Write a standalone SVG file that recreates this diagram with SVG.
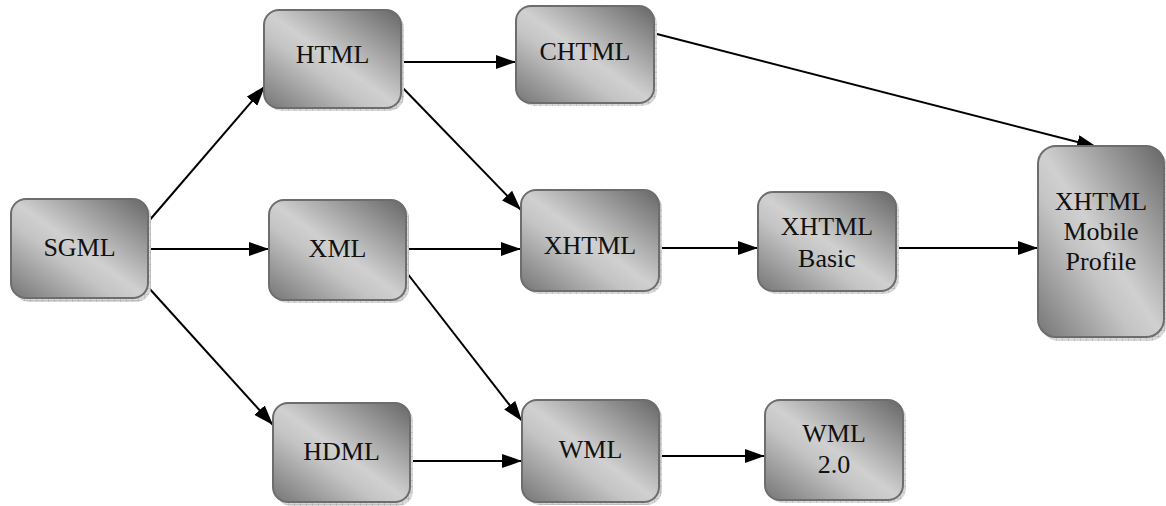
<svg xmlns="http://www.w3.org/2000/svg" width="1166" height="506" viewBox="0 0 1166 506">
<defs>
<linearGradient id="g" x1="1" y1="0" x2="0" y2="1">
<stop offset="0" stop-color="#666"/>
<stop offset="0.5" stop-color="#d0d0d0"/>
<stop offset="0.62" stop-color="#c4c4c4"/>
<stop offset="1" stop-color="#757575"/>
</linearGradient>
<pattern id="hatch" width="6" height="6" patternUnits="userSpaceOnUse">
<rect width="6" height="6" fill="#d8d8d8"/>
<path d="M0 0H6M0 0V6" stroke="#aaa" stroke-width="1"/>
</pattern>
<marker id="ah" markerWidth="20" markerHeight="14" refX="20" refY="7" orient="auto" markerUnits="userSpaceOnUse">
<path d="M0 0L20 7L0 14Z" fill="#000"/>
</marker>
</defs>
<style>
.sh{fill:url(#hatch);}
.bx{fill:url(#g);stroke:#6d6d6d;stroke-width:2;}
.c{stroke:#000;stroke-width:2;fill:none;marker-end:url(#ah);}
text{font-family:"Liberation Serif","DejaVu Serif",serif;font-size:26px;fill:#111;text-anchor:middle;}
</style>
<g id="connectors">
<line class="c" x1="148" y1="222" x2="265" y2="86"/>
<line class="c" x1="148" y1="249" x2="269" y2="249"/>
<line class="c" x1="148" y1="287" x2="273" y2="425"/>
<line class="c" x1="401" y1="62" x2="516" y2="62"/>
<line class="c" x1="400" y1="85" x2="521" y2="210"/>
<line class="c" x1="653" y1="33" x2="1097" y2="147"/>
<line class="c" x1="406" y1="249" x2="521" y2="249"/>
<line class="c" x1="400" y1="264" x2="522" y2="421"/>
<line class="c" x1="659" y1="248" x2="758" y2="248"/>
<line class="c" x1="896" y1="248" x2="1038" y2="248"/>
<line class="c" x1="410" y1="461" x2="522" y2="461"/>
<line class="c" x1="659" y1="456" x2="765" y2="456"/>
</g>
<g id="SGML">
<rect class="sh" x="14" y="202" width="137" height="100" rx="15"/>
<rect class="bx" x="11" y="199" width="137" height="99" rx="15"/>
<text x="79.5" y="256">SGML</text>
</g>
<g id="HTML">
<rect class="sh" x="267" y="13" width="137" height="98" rx="15"/>
<rect class="bx" x="264" y="10" width="137" height="98" rx="15"/>
<text x="332.5" y="63">HTML</text>
</g>
<g id="CHTML">
<rect class="sh" x="519" y="9" width="138" height="97" rx="15"/>
<rect class="bx" x="516" y="6" width="138" height="97" rx="15"/>
<text x="585" y="60">CHTML</text>
</g>
<g id="XML">
<rect class="sh" x="272" y="203" width="137" height="100" rx="15"/>
<rect class="bx" x="269" y="200" width="137" height="100" rx="15"/>
<text x="337.5" y="257">XML</text>
</g>
<g id="XHTML">
<rect class="sh" x="524" y="193" width="138" height="101" rx="15"/>
<rect class="bx" x="521" y="190" width="138" height="101" rx="15"/>
<text x="590" y="254">XHTML</text>
</g>
<g id="XHTMLBasic">
<rect class="sh" x="761" y="195" width="138" height="99" rx="15"/>
<rect class="bx" x="758" y="192" width="138" height="99" rx="15"/>
<text x="827" y="235">XHTML</text>
<text x="827" y="267">Basic</text>
</g>
<g id="XHTMLMobileProfile">
<rect class="sh" x="1041" y="149" width="126" height="192" rx="18"/>
<rect class="bx" x="1038" y="146" width="126" height="191" rx="18"/>
<text x="1101" y="210">XHTML</text>
<text x="1101" y="240">Mobile</text>
<text x="1101" y="270">Profile</text>
</g>
<g id="HDML">
<rect class="sh" x="276" y="406" width="137" height="100" rx="15"/>
<rect class="bx" x="273" y="403" width="137" height="99" rx="15"/>
<text x="341.5" y="460">HDML</text>
</g>
<g id="WML">
<rect class="sh" x="525" y="403" width="137" height="102" rx="15"/>
<rect class="bx" x="522" y="400" width="137" height="102" rx="15"/>
<text x="590.5" y="458">WML</text>
</g>
<g id="WML20">
<rect class="sh" x="768" y="403" width="138" height="100" rx="15"/>
<rect class="bx" x="765" y="400" width="138" height="100" rx="15"/>
<text x="834" y="442">WML</text>
<text x="834" y="473">2.0</text>
</g>
</svg>
